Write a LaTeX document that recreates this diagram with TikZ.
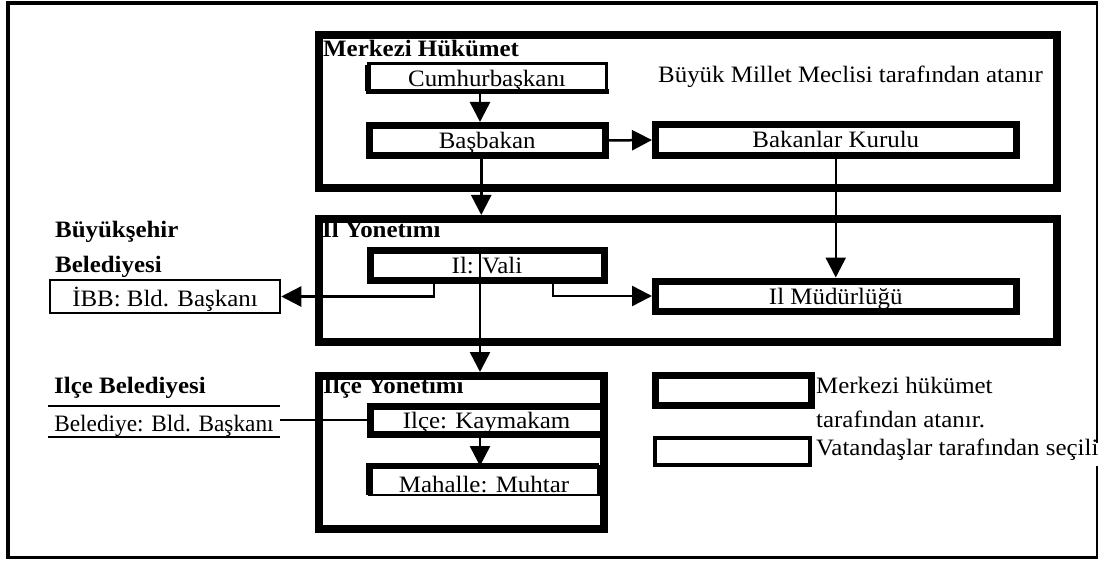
\documentclass[tikz,border=0pt]{standalone}
\usepackage{fontspec}
\setmainfont{Liberation Serif}[FakeStretch=1.06]
\usetikzlibrary{arrows.meta,calc}
\begin{document}
\begin{tikzpicture}[x=1pt,y=-1pt,
  font=\fontsize{23.5}{28}\selectfont,
  box/.style={draw, rectangle, inner sep=0pt, text height=16pt, text depth=0pt, align=center},
  thickbox/.style={box, line width=7pt},
  group/.style={draw, rectangle, line width=8pt, inner sep=0pt},
  lbl/.style={anchor=base west, inner sep=0pt},
  blbl/.style={lbl, font=\fontsize{23.5}{28}\selectfont\bfseries},
  conn/.style={line width=2.5pt},
  arr/.style={conn, -{Triangle[length=20pt,width=20pt]}},
  frameline/.style={line width=2.5pt}
]
\useasboundingbox (0,0) rectangle (1107,561);

% outer frame
\draw[line width=4pt] (6,3.5) -- (1098,3.5);
\draw[line width=4.5pt] (8,1.5) -- (8,559);
\draw[frameline] (1097,3.5) -- (1097,443);
\draw[frameline] (1097,466) -- (1097,557.5);
\draw[frameline] (8,557.5) -- (1098.2,557.5);

% group boxes
\node[group, minimum width=738pt, minimum height=152.5pt] (merkezi) at (688,111.75) {};
\node[group, minimum width=738.5pt, minimum height=123pt] (il) at (687.75,280.5) {};
\node[group, minimum width=285.5pt, minimum height=153pt] (ilce) at (461.25,452.5) {};

\node[blbl] (merkezilbl) at (323,57) {Merkezi Hükümet};
\node[blbl] (illbl) at (322,237) {Il Yonetımı};
\node[blbl] (ilcelbl) at (323,393) {Ilçe Yonetımı};

% central government
\node[box, line width=3pt, outer sep=0pt, minimum width=238pt, minimum height=28pt] (cumhur) at (487,77.5) {\raisebox{-1.5pt}{Cumhurbaşkanı}};
\draw[line width=5.5pt] ([yshift=-1.5pt]cumhur.north west) -- (cumhur.south west);
\draw[line width=5pt, line cap=rect] (cumhur.south west) -- (cumhur.south east);
\node[thickbox, minimum width=235.5pt, minimum height=30pt] (basbakan) at (487.25,140.5) {Başbakan};
\node[thickbox, minimum width=360.5pt, minimum height=31pt] (bakanlar) at (835.75,140) {Bakanlar Kurulu};
\node[lbl] (meclis) at (658,83) {Büyük Millet Meclisi tarafından atanır};

% province
\node[thickbox, minimum width=234pt, minimum height=30pt] (vali) at (487,265) {Il: Vali};
\node[thickbox, minimum width=360.5pt, minimum height=30pt] (mudurluk) at (835.75,296) {Il Müdürlüğü};

% metropolitan municipality
\node[blbl] (bsb1) at (55,237) {Büyükşehir};
\node[blbl] (bsb2) at (55,272) {Belediyesi};
\node[box, line width=2.5pt, minimum width=230pt, minimum height=33pt] (ibb) at (165,296.5) {\raisebox{-1.5pt}{İBB: Bld. Başkanı}};

% district
\node[thickbox, minimum width=233pt, minimum height=28pt] (kaymakam) at (486.5,420) {Ilçe: Kaymakam};
\node[box, line width=2.5pt, outer sep=0pt, minimum width=229pt, minimum height=29pt] (muhtar) at (484,480.5) {\raisebox{-3.5pt}{Mahalle: Muhtar}};
\draw[line width=6.5pt] (muhtar.south west) -- (muhtar.north west) -- (muhtar.north east);

\node[blbl] (ilcebel) at (54,393) {Ilçe Belediyesi};
\node[inner sep=0pt, text height=16pt, text depth=0pt, minimum width=232pt, minimum height=31pt] (belediye) at (164,421.5) {\raisebox{-1.5pt}{\scalebox{0.935}[1]{Belediye: Bld. Başkanı}}};
\draw[frameline] (belediye.north west) -- (belediye.north east);
\draw[frameline] (belediye.south west) -- (belediye.south east);

% legend
\node[thickbox, minimum width=155.5pt, minimum height=30.5pt] (legA) at (733.25,390.25) {};
\node[box, line width=4pt, minimum width=155.5pt, minimum height=27.5pt] (legB) at (732.25,451.25) {};
\node[lbl] (legA1) at (816,393) {Merkezi hükümet};
\node[lbl] (legA2) at (816,427) {tarafından atanır.};
\node[lbl] (legB1) at (816,455) {Vatandaşlar tarafından seçili};

% connectors
\draw[arr] ([xshift=-7pt]cumhur.south) -- ([xshift=-7pt]cumhur.south |- basbakan.north);
\draw[arr] (basbakan.east) -- (bakanlar.west);
\draw[arr] ([xshift=-6pt]basbakan.south) -- ([xshift=-6pt]basbakan.south |- il.north);
\draw[arr] (bakanlar.south) -- (mudurluk.north);
\draw[arr] ([xshift=-7pt]vali.north) -- ([xshift=-7pt]vali.north |- ilce.north);
\draw[arr] ([xshift=-53pt]vali.south) |- (ibb.east);
\draw[arr] ([xshift=66pt]vali.south) |- (mudurluk.west);
\draw[arr] ([xshift=-6.5pt]kaymakam.south) -- ([xshift=-6.5pt]kaymakam.south |- muhtar.north);
\draw[conn] (kaymakam.west -| belediye.east) -- (kaymakam.west);
\end{tikzpicture}
\end{document}
